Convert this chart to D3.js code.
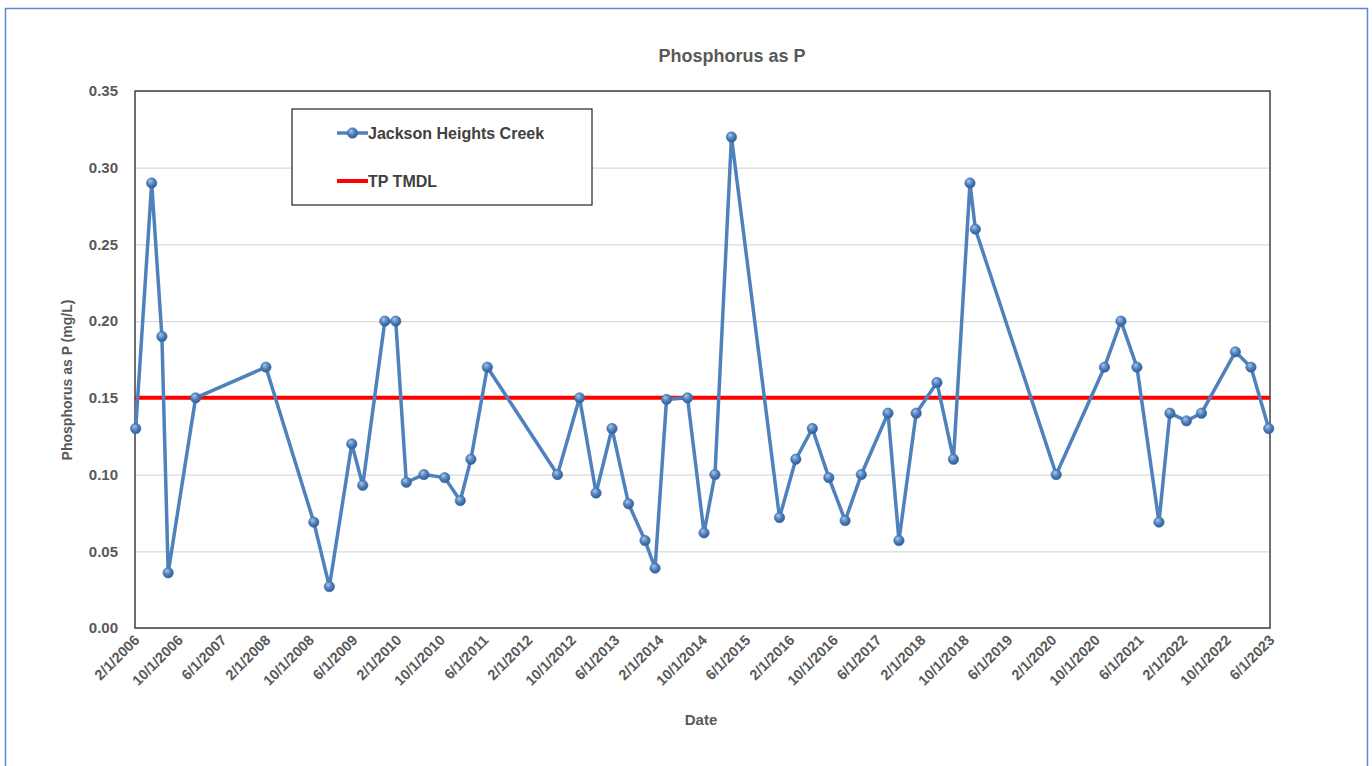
<!DOCTYPE html>
<html>
<head>
<meta charset="utf-8">
<script src="https://cdn.jsdelivr.net/npm/d3@7"></script>
<style>
  body { margin: 0; background: #fff; }
  svg { display: block; font-family: "Liberation Sans", Arial, sans-serif; }
  .tick text { fill: #595959; font-weight: bold; }
  .axis-label { fill: #595959; font-weight: bold; }
</style>
</head>
<body>
<svg id="chart" width="1372" height="766"></svg>
<script>

// sample dates and measured phosphorus (mg/L)
const sampleDates = [
  '2006-02-05', '2006-05-05', '2006-07-01', '2006-08-05', '2007-01-05',
  '2008-02-01', '2008-10-25', '2009-01-20', '2009-05-25', '2009-07-25',
  '2009-11-25', '2010-01-25', '2010-03-25', '2010-07-01', '2010-10-25',
  '2011-01-20', '2011-03-20', '2011-06-20', '2012-07-15', '2012-11-15',
  '2013-02-15', '2013-05-15', '2013-08-15', '2013-11-15', '2014-01-10',
  '2014-03-15', '2014-07-10', '2014-10-10', '2014-12-10', '2015-03-12',
  '2015-12-05', '2016-03-05', '2016-06-05', '2016-09-05', '2016-12-05',
  '2017-03-05', '2017-08-01', '2017-10-01', '2018-01-05', '2018-05-01',
  '2018-08-01', '2018-11-01', '2018-12-01', '2020-02-25', '2020-11-20',
  '2021-02-20', '2021-05-20', '2021-09-20', '2021-11-20', '2022-02-20',
  '2022-05-15', '2022-11-20', '2023-02-15', '2023-05-25'
];
const phosphorus = [
  0.13, 0.29, 0.19, 0.036, 0.15,
  0.17, 0.069, 0.027, 0.12, 0.093,
  0.20, 0.20, 0.095, 0.10, 0.098,
  0.083, 0.11, 0.17, 0.10, 0.15,
  0.088, 0.13, 0.081, 0.057, 0.039,
  0.149, 0.15, 0.062, 0.10, 0.32,
  0.072, 0.11, 0.13, 0.098, 0.07,
  0.10, 0.14, 0.057, 0.14, 0.16,
  0.11, 0.29, 0.26, 0.10, 0.17,
  0.20, 0.17, 0.069, 0.14, 0.135,
  0.14, 0.18, 0.17, 0.13
];
const tmdl = 0.15;
const dateRange = ['2006-02-01', '2023-06-01'];
const yTicks = [0, 0.05, 0.10, 0.15, 0.20, 0.25, 0.30, 0.35];
const seriesNames = ['Jackson Heights Creek', 'TP TMDL'];

const parseDate = d3.timeParse('%Y-%m-%d');
const data = sampleDates.map((d, i) => ({ date: parseDate(d), value: phosphorus[i] }));

const svg = d3.select('#chart');
const width = +svg.attr('width');
const height = +svg.attr('height');
const margin = { top: 91, right: 102, bottom: 138, left: 135 };
const innerWidth = width - margin.left - margin.right;
const innerHeight = height - margin.top - margin.bottom;

// outer chart frame (bottom edge falls below the window)
svg.append('path')
  .attr('d', `M5.5,${height} V8.5 H1367.5 V${height}`)
  .attr('fill', 'none')
  .attr('stroke', '#5b8cc8')
  .attr('stroke-width', 1.5);

// marker gradient for the 3d ball look
const grad = svg.append('defs').append('radialGradient')
  .attr('id', 'ball')
  .attr('cx', '45%').attr('cy', '40%').attr('r', '60%')
  .attr('fx', '35%').attr('fy', '30%');
grad.append('stop').attr('offset', '0%').attr('stop-color', '#a9c6ec');
grad.append('stop').attr('offset', '55%').attr('stop-color', '#4f81bd');
grad.append('stop').attr('offset', '100%').attr('stop-color', '#2f5a8e');

const g = svg.append('g')
  .attr('transform', `translate(${margin.left},${margin.top})`);

const xScale = d3.scaleTime()
  .domain(dateRange.map(parseDate))
  .range([0, innerWidth]);

const yScale = d3.scaleLinear()
  .domain([0, 0.35])
  .range([innerHeight, 0]);

// x ticks every 8 months from the start date
const xTickDates = d3.timeMonth.every(1)
  .range(parseDate(dateRange[0]), d3.timeDay.offset(parseDate(dateRange[1]), 1))
  .filter((d, i) => i % 8 === 0);

const yAxis = d3.axisLeft(yScale)
  .tickValues(yTicks)
  .tickSize(-innerWidth)
  .tickPadding(17)
  .tickFormat(d3.format('.2f'));

const yAxisG = g.append('g').attr('class', 'yAxis').call(yAxis);
yAxisG.select('.domain').remove();
yAxisG.selectAll('.tick line')
  .attr('stroke', '#d9d9d9')
  .attr('stroke-width', 1.2);
yAxisG.selectAll('.tick text').style('font-size', '15px');

const xAxis = d3.axisBottom(xScale)
  .tickValues(xTickDates)
  .tickSize(0)
  .tickFormat(d3.timeFormat('%-m/%-d/%Y'));

const xAxisG = g.append('g')
  .attr('class', 'xAxis')
  .attr('transform', `translate(0,${innerHeight})`)
  .call(xAxis);
xAxisG.select('.domain').remove();
xAxisG.selectAll('.tick text')
  .style('font-size', '14.5px')
  .attr('text-anchor', 'end')
  .attr('dy', null)
  .attr('y', 0)
  .attr('transform', 'translate(5,13) rotate(-45)');

// plot area border
g.append('rect')
  .attr('width', innerWidth)
  .attr('height', innerHeight)
  .attr('fill', 'none')
  .attr('stroke', '#404040')
  .attr('stroke-width', 1.5);

// TMDL reference line
g.append('line')
  .attr('x1', 0).attr('x2', innerWidth)
  .attr('y1', yScale(tmdl)).attr('y2', yScale(tmdl))
  .attr('stroke', '#ff0000')
  .attr('stroke-width', 4);

const lineGenerator = d3.line()
  .x(d => xScale(d.date))
  .y(d => yScale(d.value));

g.append('path')
  .datum(data)
  .attr('class', 'line-path')
  .attr('d', lineGenerator)
  .attr('fill', 'none')
  .attr('stroke', '#4f81bd')
  .attr('stroke-width', 3.5)
  .attr('stroke-linejoin', 'round');

g.selectAll('.marker').data(data)
  .enter().append('circle')
  .attr('class', 'marker')
  .attr('cx', d => xScale(d.date))
  .attr('cy', d => yScale(d.value))
  .attr('r', 5.2)
  .attr('fill', 'url(#ball)')
  .attr('stroke', '#3f6fa8')
  .attr('stroke-width', 0.6);

// titles
svg.append('text')
  .attr('class', 'axis-label')
  .attr('x', 732).attr('y', 62)
  .attr('text-anchor', 'middle')
  .style('font-size', '18px')
  .text('Phosphorus as P');

svg.append('text')
  .attr('class', 'axis-label')
  .attr('transform', `translate(72,380) rotate(-90)`)
  .attr('text-anchor', 'middle')
  .style('font-size', '14px')
  .text('Phosphorus as P (mg/L)');

svg.append('text')
  .attr('class', 'axis-label')
  .attr('x', 701).attr('y', 725)
  .attr('text-anchor', 'middle')
  .style('font-size', '15px')
  .text('Date');

// legend
const legend = svg.append('g').attr('transform', 'translate(292,109)');
legend.append('rect')
  .attr('width', 300).attr('height', 96)
  .attr('fill', '#fff')
  .attr('stroke', '#222')
  .attr('stroke-width', 1.2);

const legendItems = legend.selectAll('.legend-item').data(seriesNames)
  .enter().append('g')
  .attr('class', 'legend-item')
  .attr('transform', (d, i) => `translate(45,${24 + i * 48})`);

legendItems.append('line')
  .attr('x1', 0).attr('x2', 31)
  .attr('stroke', (d, i) => i === 0 ? '#4f81bd' : '#ff0000')
  .attr('stroke-width', (d, i) => i === 0 ? 3.5 : 4);

legendItems.filter((d, i) => i === 0).append('circle')
  .attr('cx', 15.5).attr('r', 5.2)
  .attr('fill', 'url(#ball)')
  .attr('stroke', '#3f6fa8')
  .attr('stroke-width', 0.6);

legendItems.append('text')
  .attr('x', 31).attr('dy', '0.35em')
  .attr('fill', '#404040')
  .style('font-weight', 'bold')
  .style('font-size', '16px')
  .text(d => d);

</script>
</body>
</html>
